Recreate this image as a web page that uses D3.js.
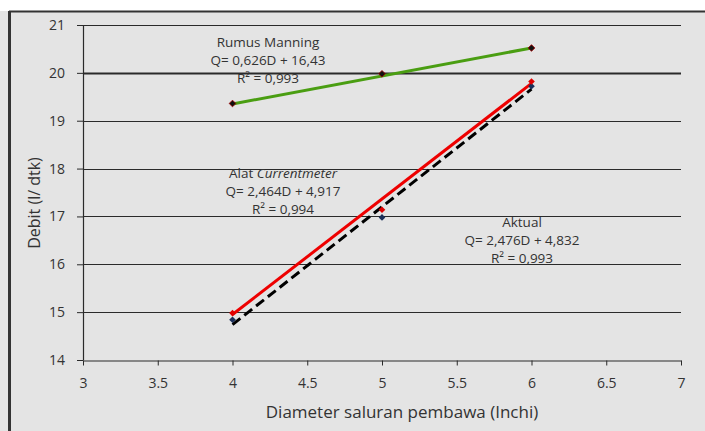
<!DOCTYPE html>
<html><head><meta charset="utf-8">
<script src="https://cdn.jsdelivr.net/npm/d3@7"></script>
<style>body{margin:0;background:#fff;}svg{display:block;}text{font-family:"Open Sans",Arial,sans-serif;}</style>
</head><body>
<script>
const diameters = [4, 5, 6];
const manning = [19.36, 19.98, 20.52];
const currentmeter = [14.98, 17.14, 19.82];
const aktual = [14.84, 16.98, 19.72];
const trendX = [4, 6];
const manningTrend = [19.35, 20.52];
const currentTrend = [14.95, 19.78];
const aktualTrend = [14.74, 19.66];
const xTicks = [3, 3.5, 4, 4.5, 5, 5.5, 6, 6.5, 7];
const yTicks = [14, 15, 16, 17, 18, 19, 20, 21];

const W = 705, H = 431;
const FF = "Open Sans, Arial, sans-serif";
const svg = d3.select("body").append("svg").attr("width", W).attr("height", H);
svg.append("rect").attr("x", 0).attr("y", 11).attr("width", W).attr("height", H - 11).attr("fill", "#e4e4e4");
svg.append("line").attr("x1", 9).attr("x2", W).attr("y1", 11.5).attr("y2", 11.5).attr("stroke", "#333").attr("stroke-width", 2);
svg.append("line").attr("x1", 9.5).attr("x2", 9.5).attr("y1", 11).attr("y2", H).attr("stroke", "#333").attr("stroke-width", 3);

const x = d3.scaleLinear().domain([3, 7]).range([83, 681]);
const y = d3.scaleLinear().domain([14, 21]).range([360, 25]);

// gridlines
svg.append("g").selectAll("line").data(yTicks.filter(d => d > 14)).join("line")
  .attr("x1", x(3)).attr("x2", x(7)).attr("y1", d => Math.round(y(d)) + 0.5).attr("y2", d => Math.round(y(d)) + 0.5)
  .attr("stroke", "#2a2a2a").attr("stroke-width", d => d === 20 ? 2.2 : 1.2);

const tc = "#333";
const xa = svg.append("g").attr("transform", `translate(0,${Math.round(y(14)) + 0.5})`)
  .call(d3.axisBottom(x).tickValues(xTicks).tickSize(5).tickSizeOuter(0).tickPadding(13).tickFormat(d => String(d)));
xa.select(".domain").attr("stroke", "#2a2a2a").attr("stroke-width", 1.2);
xa.selectAll(".tick line").attr("stroke", "#2a2a2a");
xa.selectAll("text").attr("font-size", 14).attr("fill", tc).attr("font-family", FF);

const ya = svg.append("g").attr("transform", `translate(${x(3)},0)`)
  .call(d3.axisLeft(y).tickValues(yTicks).tickSize(6).tickSizeOuter(0).tickPadding(12).tickFormat(d => String(d)));
ya.select(".domain").attr("stroke", "#2a2a2a").attr("stroke-width", 1.2);
ya.selectAll(".tick line").attr("stroke", "#2a2a2a");
ya.selectAll("text").attr("font-size", 14).attr("fill", tc).attr("font-family", FF);

// axis titles
svg.append("text").attr("x", 402).attr("y", 418).attr("text-anchor", "middle").attr("font-size", 17).attr("fill", tc)
  .text("Diameter saluran pembawa (Inchi)");
svg.append("text").attr("transform", "translate(40,203) rotate(-90)").attr("text-anchor", "middle").attr("font-size", 16).attr("fill", tc)
  .text("Debit (l/ dtk)");

const line = d3.line().x(d => x(d[0])).y(d => y(d[1]));
const pairs = (xs, ys) => xs.map((v, i) => [v, ys[i]]);

// trend lines
svg.append("path").attr("d", line(pairs(trendX, manningTrend))).attr("fill", "none").attr("stroke", "#4a9e12").attr("stroke-width", 3);
svg.append("path").attr("d", line(pairs(trendX, aktualTrend))).attr("fill", "none").attr("stroke", "#000").attr("stroke-width", 3).attr("stroke-dasharray", "10,5");
svg.append("path").attr("d", line(pairs(trendX, currentTrend))).attr("fill", "none").attr("stroke", "#ee0000").attr("stroke-width", 3);

// markers (rotated squares)
const diamond = d3.symbol().type(d3.symbolSquare).size(22);
const tf = d => `translate(${x(d[0])},${y(d[1])}) rotate(45)`;
svg.append("g").selectAll("path").data(pairs(diameters, aktual)).join("path")
  .attr("d", diamond).attr("transform", tf).attr("fill", "#1a2f5a");
svg.append("g").selectAll("path").data(pairs(diameters, currentmeter)).join("path")
  .attr("d", diamond).attr("transform", tf).attr("fill", "#e00000");
svg.append("g").selectAll("path").data(pairs(diameters, manning)).join("path")
  .attr("d", diamond).attr("transform", tf).attr("fill", "#111").attr("stroke", "#a00000").attr("stroke-width", 0.8);

// annotations
function label(cx, cy, lines) {
  lines.forEach((l, i) => {
    const t = svg.append("text").attr("x", cx).attr("y", cy + i * 18).attr("text-anchor", "middle").attr("font-size", 13.5).attr("fill", tc);
    if (Array.isArray(l)) {
      l.forEach(seg => t.append("tspan").attr("font-style", seg.italic ? "italic" : null).text(seg.t));
    } else t.text(l);
  });
}
label(268, 47, ["Rumus Manning", "Q= 0,626D + 16,43", "R² = 0,993"]);
label(283, 178, [[{t: "Alat "}, {t: "Currentmeter", italic: true}], "Q= 2,464D + 4,917", "R² = 0,994"]);
label(522, 227, ["Aktual", "Q= 2,476D + 4,832", "R² = 0,993"]);
</script>
</body></html>
